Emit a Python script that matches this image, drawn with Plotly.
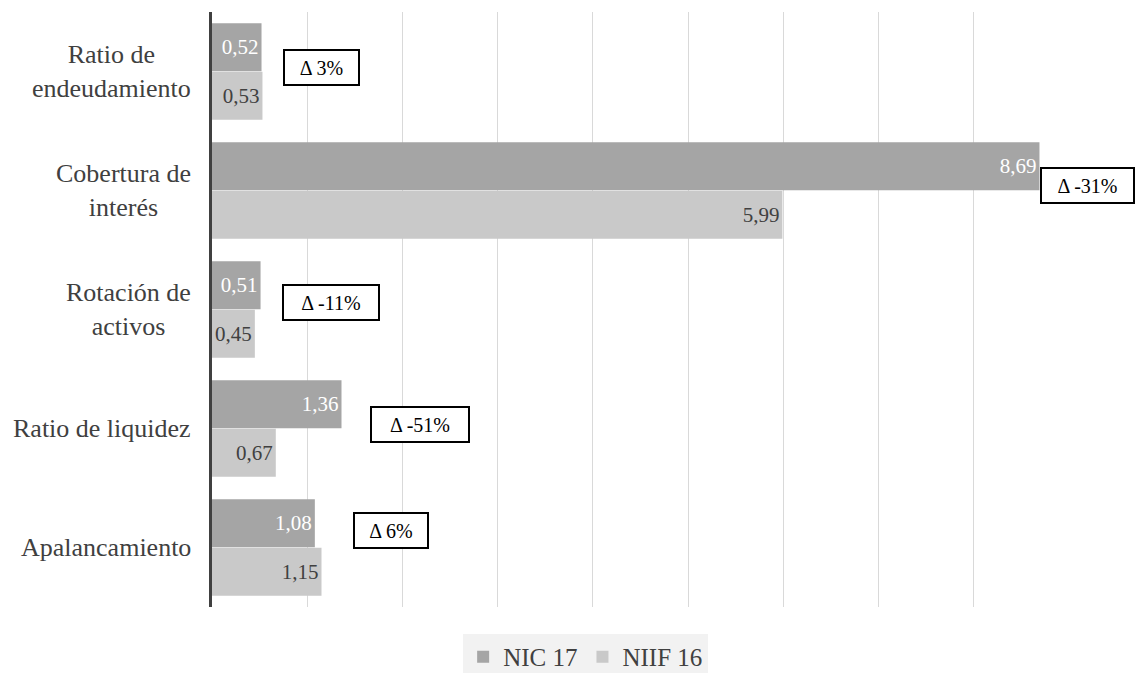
import plotly.graph_objects as go

categories = ["Ratio de<br>endeudamiento", "Cobertura de<br>interés", "Rotación de<br>activos",
              "Ratio de liquidez", "Apalancamiento"]
nic17 = [0.52, 8.69, 0.51, 1.36, 1.08]
niif16 = [0.53, 5.99, 0.45, 0.67, 1.15]
delta_labels = ["Δ 3%", "Δ -31%", "Δ -11%", "Δ -51%", "Δ 6%"]
delta_x = [1.15, 9.19, 1.25, 2.18, 1.88]
delta_y = [-0.034, 0.954, 1.945, 2.97, 3.853]
delta_w = [69, 87, 90, 92, 68]
X_MAX = 9

FONT = "Liberation Serif"
ids = list(range(len(categories)))

def fmt(v):
    return f"{v:.2f}".replace(".", ",")

fig = go.Figure()
fig.add_trace(go.Bar(
    y=ids, x=nic17, orientation="h", name="NIC 17",
    marker=dict(color="#a5a5a5", line=dict(width=0)),
    text=[fmt(v) for v in nic17], textposition="inside", insidetextanchor="end",
    textfont=dict(family=FONT, size=21, color="white"), cliponaxis=False,
))
fig.add_trace(go.Bar(
    y=ids, x=niif16, orientation="h", name="NIIF 16",
    marker=dict(color="#c9c9c9", line=dict(width=0)),
    text=[fmt(v) for v in niif16], textposition="inside", insidetextanchor="end",
    textfont=dict(family=FONT, size=21, color="#404040"), cliponaxis=False,
))

annotations = []
for i, c in enumerate(categories):
    annotations.append(dict(
        x=0, xref="paper", y=i, yref="y", text=c, showarrow=False,
        xanchor="right", xshift=-19, align="center",
        font=dict(family=FONT, size=26, color="#404040"),
    ))
for lab, xv, yv, w in zip(delta_labels, delta_x, delta_y, delta_w):
    annotations.append(dict(
        x=xv / X_MAX, xref="paper", y=yv, yref="y", text=lab, showarrow=False,
        xanchor="center", yanchor="middle", width=w, height=29, align="center",
        valign="middle",
        bordercolor="black", borderwidth=2, borderpad=2, bgcolor="white",
        font=dict(family=FONT, size=20, color="black"),
    ))

fig.update_layout(
    width=1137, height=673,
    margin=dict(l=212, r=68, t=12, b=66, autoexpand=False),
    paper_bgcolor="white", plot_bgcolor="white",
    barmode="group", bargap=0.185, bargroupgap=0.01,
    font=dict(family=FONT, size=20, color="#404040"),
    xaxis=dict(range=[0, X_MAX], dtick=1, showgrid=True, gridcolor="#d9d9d9", gridwidth=1,
               showticklabels=False, zeroline=False, showline=False, ticks=""),
    yaxis=dict(range=[4.5, -0.5], showticklabels=False, showgrid=False, zeroline=False,
               showline=True, linecolor="#404040", linewidth=3, ticks=""),
    legend=dict(orientation="h", x=0.436, xanchor="center", y=-0.084, yanchor="middle",
                bgcolor="#f2f2f2", font=dict(family=FONT, size=25, color="#404040"),
                itemwidth=30, traceorder="normal"),
    annotations=annotations,
    showlegend=True,
)

fig.write_html("out.html")
